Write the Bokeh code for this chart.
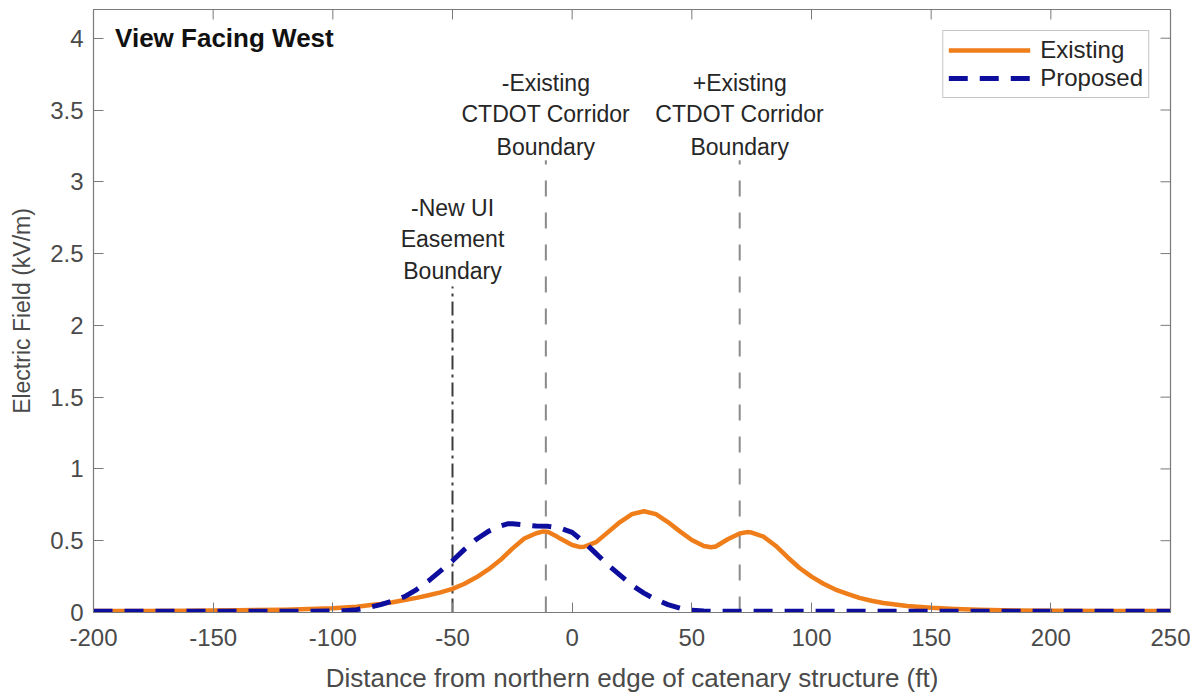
from bokeh.plotting import figure
from bokeh.models import Range1d, Label, Legend, LegendItem, FixedTicker
from bokeh.embed import file_html
from bokeh.resources import INLINE

# ---- data ----
existing_x = [-200, -180, -160, -140, -120, -110, -100, -95, -90, -85, -80, -75, -70, -65, -60, -55,
              -50, -45, -40, -35, -30, -25, -20, -15, -12, -10, -7, -5, 0, 3, 5, 10, 15, 20, 25,
              30, 35, 40, 45, 50, 55, 58, 60, 65, 70, 73, 75, 80, 85, 90, 95, 100, 105, 110,
              115, 120, 125, 130, 140, 150, 160, 170, 180, 200, 225, 250]
existing_y = [0.010, 0.010, 0.012, 0.015, 0.020, 0.025, 0.030, 0.035, 0.040, 0.050, 0.060, 0.072,
              0.087, 0.102, 0.120, 0.140, 0.165, 0.200, 0.245, 0.300, 0.365, 0.445, 0.515, 0.552,
              0.565, 0.560, 0.535, 0.515, 0.470, 0.457, 0.458, 0.490, 0.560, 0.630, 0.685, 0.705,
              0.685, 0.630, 0.565, 0.505, 0.463, 0.455, 0.460, 0.510, 0.550, 0.560, 0.557, 0.528,
              0.465, 0.385, 0.310, 0.250, 0.200, 0.160, 0.130, 0.102, 0.082, 0.066, 0.045, 0.033,
              0.025, 0.020, 0.015, 0.012, 0.010, 0.010]

proposed_x = [-200, -180, -160, -140, -120, -100, -95, -90, -85, -80, -75, -70, -65, -60, -55, -50,
              -45, -40, -35, -30, -27, -25, -20, -15, -10, -5, 0, 5, 10, 15, 20, 25, 30, 35, 40,
              45, 50, 55, 60, 80, 100, 150, 200, 250]
proposed_y = [0.008, 0.008, 0.008, 0.008, 0.009, 0.010, 0.012, 0.020, 0.035, 0.055, 0.080, 0.110,
              0.160, 0.220, 0.290, 0.360, 0.440, 0.510, 0.565, 0.603, 0.618, 0.618, 0.610, 0.602,
              0.600, 0.588, 0.558, 0.490, 0.410, 0.330, 0.260, 0.190, 0.135, 0.090, 0.055, 0.030,
              0.015, 0.010, 0.008, 0.008, 0.008, 0.008, 0.008, 0.008]

series_names = ["Existing", "Proposed"]

boundary_x = [-50, -11, 70]
boundary_top = [2.27, 3.15, 3.15]
boundary_labels = [["-New UI", "Easement", "Boundary"],
                   ["-Existing", "CTDOT Corridor", "Boundary"],
                   ["+Existing", "CTDOT Corridor", "Boundary"]]
boundary_label_y = [[2.82, 2.60, 2.38], [3.69, 3.47, 3.24], [3.69, 3.47, 3.24]]

x_range = (-200, 250)
y_range = (0, 4.2)
x_ticks = [-200, -150, -100, -50, 0, 50, 100, 150, 200, 250]
x_tick_labels = ["-200", "-150", "-100", "-50", "0", "50", "100", "150", "200", "250"]
y_ticks = [0, 0.5, 1, 1.5, 2, 2.5, 3, 3.5, 4]
y_tick_labels = ["0", "0.5", "1", "1.5", "2", "2.5", "3", "3.5", "4"]

title_text = "View Facing West"
x_label = "Distance from northern edge of catenary structure (ft)"
y_label = "Electric Field (kV/m)"

# ---- styling ----
FONT = "Liberation Sans"
ORANGE = "#EE7D1A"
BLUE = "#0E0E9E"
AXIS_GRAY = "#7a7a7a"
TEXT_GRAY = "#4a4a4a"
TICK_LEN_PX = 10

W, H = 1190, 698
BL, BR, BT, BB = 93, 20, 9, 86
p = figure(width=W, height=H, x_range=Range1d(*x_range), y_range=Range1d(*y_range),
           output_backend="svg", toolbar_location=None,
           min_border_left=BL, min_border_right=BR, min_border_top=BT, min_border_bottom=BB)
p.xgrid.visible = False
p.ygrid.visible = False
p.outline_line_color = AXIS_GRAY
p.outline_line_width = 1.2
p.background_fill_color = "white"
p.border_fill_color = "white"

for ax in p.xaxis + p.yaxis:
    ax.major_tick_in = TICK_LEN_PX
    ax.major_tick_out = 0
    ax.minor_tick_line_color = None
    ax.axis_line_color = AXIS_GRAY
    ax.major_tick_line_color = AXIS_GRAY
    ax.major_label_text_font = FONT
    ax.major_label_text_font_size = "24px"
    ax.major_label_text_color = TEXT_GRAY
    ax.axis_label_text_font = FONT
    ax.axis_label_text_font_style = "normal"
    ax.axis_label_text_color = TEXT_GRAY

p.xaxis.ticker = FixedTicker(ticks=x_ticks)
p.yaxis.ticker = FixedTicker(ticks=y_ticks)
p.xaxis.major_label_overrides = dict(zip(x_ticks, x_tick_labels))
p.yaxis.major_label_overrides = dict(zip(y_ticks, y_tick_labels))
p.xaxis.axis_label = x_label
p.yaxis.axis_label = y_label
p.xaxis.axis_label_text_font_size = "26px"
p.yaxis.axis_label_text_font_size = "23px"
p.xaxis.major_label_standoff = 16
p.xaxis.axis_label_standoff = 14
p.yaxis.major_label_standoff = 10
p.yaxis.axis_label_standoff = 12

# mirrored inward ticks on the top and right edges of the box
fw = W - BL - BR
fh = H - BT - BB
dx = TICK_LEN_PX * (x_range[1] - x_range[0]) / fw
dy = TICK_LEN_PX * (y_range[1] - y_range[0]) / fh
p.segment(x0=x_ticks, y0=[y_range[1]] * len(x_ticks), x1=x_ticks,
          y1=[y_range[1] - dy] * len(x_ticks), line_color=AXIS_GRAY, line_width=1)
p.segment(x0=[x_range[1]] * len(y_ticks), y0=y_ticks, x1=[x_range[1] - dx] * len(y_ticks),
          y1=y_ticks, line_color=AXIS_GRAY, line_width=1)

# boundary lines
p.segment(x0=boundary_x[0], y0=0, x1=boundary_x[0], y1=boundary_top[0],
          line_color="#3c3c3c", line_width=2, line_dash="14 5 3 5")
for bx, bt in zip(boundary_x[1:], boundary_top[1:]):
    p.segment(x0=bx, y0=0, x1=bx, y1=bt, line_color="#8a8a8a", line_width=2, line_dash="16 16")

# curves
r_exist = p.line(existing_x, existing_y, line_color=ORANGE, line_width=4.5, line_join="round")
r_prop = p.line(proposed_x, proposed_y, line_color=BLUE, line_width=5, line_dash="19 12")

# annotations
for bx, lines, ys in zip(boundary_x, boundary_labels, boundary_label_y):
    for t, yy in zip(lines, ys):
        p.add_layout(Label(x=bx, y=yy, text=t, text_align="center", text_baseline="middle",
                           text_font=FONT, text_font_size="23px", text_color="#262626"))

p.add_layout(Label(x=-191, y=4.0, text=title_text, text_align="left", text_baseline="middle",
                   text_font=FONT, text_font_size="26px", text_font_style="bold",
                   text_color="#111111"))

legend = Legend(items=[LegendItem(label=series_names[0], renderers=[r_exist]),
                       LegendItem(label=series_names[1], renderers=[r_prop])],
                location="top_right")
legend.margin = 21
legend.padding = 5
legend.spacing = 0
legend.glyph_width = 82
legend.glyph_height = 26
legend.label_height = 26
legend.label_standoff = 10
legend.label_text_font = FONT
legend.label_text_font_size = "24px"
legend.label_text_color = "#262626"
legend.border_line_color = "#8a8a8a"
legend.border_line_width = 1.2
legend.background_fill_alpha = 1
p.add_layout(legend, "center")

open("out.html", "w").write(file_html(p, INLINE))
